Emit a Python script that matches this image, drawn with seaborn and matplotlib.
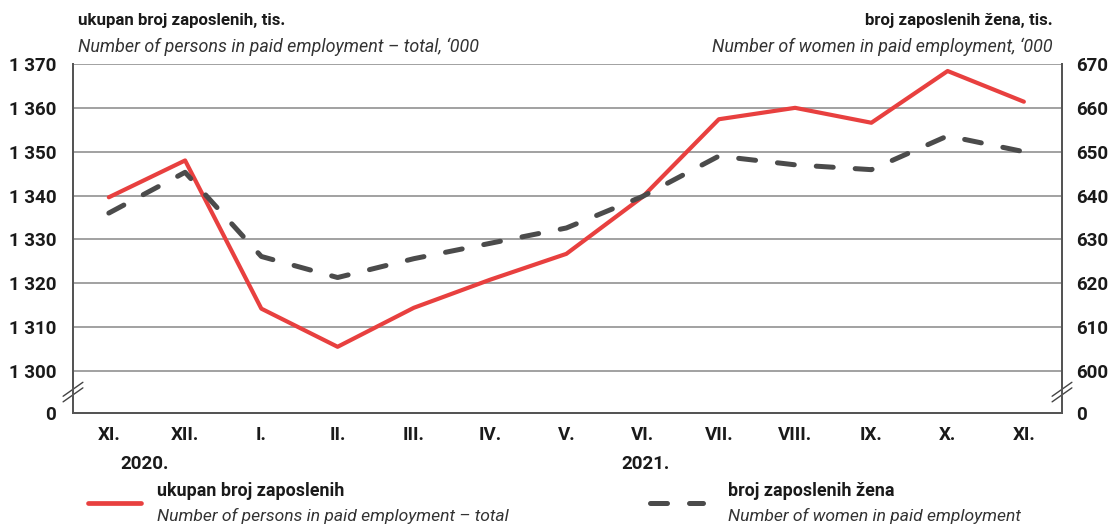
import numpy as np
import pandas as pd
import matplotlib
matplotlib.use('Agg')
import matplotlib.pyplot as plt
import seaborn as sns
from matplotlib.lines import Line2D
from matplotlib.patches import Rectangle

# data
months = ['XI.', 'XII.', 'I.', 'II.', 'III.', 'IV.', 'V.', 'VI.', 'VII.', 'VIII.', 'IX.', 'X.', 'XI.']
total = [1339.6, 1348.0, 1314.2, 1305.5, 1314.4, 1320.8, 1326.7, 1339.7, 1357.4, 1360.0, 1356.6, 1368.4, 1361.4]
women = [636.0, 645.3, 626.1, 621.3, 625.6, 629.1, 632.6, 639.8, 649.0, 647.0, 645.9, 653.6, 650.0]
left_ticks = [1300, 1310, 1320, 1330, 1340, 1350, 1360, 1370]
right_ticks = [600, 610, 620, 630, 640, 650, 660, 670]

RED = '#e8403f'
DARK = '#4b4b4b'
GRID = '#888888'
FONT = ['Roboto', 'DejaVu Sans']

sns.set_style('white')
plt.rcParams['font.family'] = FONT

df = pd.DataFrame({'pos': np.arange(len(months)), 'total': total, 'women': women})

W, H = 1110, 526
fig = plt.figure(figsize=(W / 100, H / 100), dpi=100)
ax = fig.add_axes([73 / W, 1 - 413 / H, (1062 - 73) / W, (413 - 64) / H])
ax2 = ax.twinx()

# broken axis: "0" sits a bit under the lowest real tick
gap = 9.6
ax.set_ylim(left_ticks[0] - gap, left_ticks[-1])
ax2.set_ylim(right_ticks[0] - gap, right_ticks[-1])
ax.set_xlim(-0.47, len(months) - 0.5)

for v in left_ticks:
    ax.axhline(v, color=GRID, lw=1.1, zorder=0)

sns.lineplot(data=df, x='pos', y='total', ax=ax, color=RED, lw=3.0, zorder=3)
sns.lineplot(data=df, x='pos', y='women', ax=ax2, color=DARK, lw=3.6,
             dashes=False, zorder=3)
ln = ax2.get_lines()[-1]
ln.set_dashes((3.4, 4.4))
ln.set_dash_capstyle('round')

ax.set_yticks([left_ticks[0] - gap] + left_ticks)
ax.set_yticklabels(['0'] + [f'{v:,}'.replace(',', ' ') for v in left_ticks])
ax2.set_yticks([right_ticks[0] - gap] + right_ticks)
ax2.set_yticklabels(['0'] + [str(v) for v in right_ticks])
ax.set_xticks(df['pos'])
ax.set_xticklabels(months)
ax.set_xlabel('')
ax.set_ylabel('')
ax2.set_ylabel('')

for a in (ax, ax2):
    a.tick_params(length=0, labelsize=13.5, colors='#1a1a1a')
    for s in a.spines.values():
        s.set_color('#555555')
        s.set_linewidth(1.4)
    a.spines['top'].set_visible(False)
ax.tick_params(axis='y', pad=12)
ax2.tick_params(axis='y', pad=10)
ax.tick_params(axis='x', pad=9)
for t in ax.get_xticklabels() + ax.get_yticklabels() + ax2.get_yticklabels():
    t.set_fontweight('bold')

# break marks on both vertical spines
for xa in (0.0, 1.0):
    ax.add_patch(Rectangle((xa - 0.004, 0.045), 0.008, 0.03, transform=ax.transAxes,
                           facecolor='white', edgecolor='none', clip_on=False, zorder=5))
    for off in (-0.008, 0.008):
        ax.add_line(Line2D([xa - 0.01, xa + 0.01], [0.04 + off, 0.08 + off],
                           transform=ax.transAxes, color='#444444', lw=1.0,
                           clip_on=False, zorder=6))

def ft(x, y, s, color='#1a1a1a', **kw):
    fig.text(x / W, 1 - y / H, s, va='center', color=color, **kw)

ft(78, 21, 'ukupan broj zaposlenih, tis.', fontsize=12.2, fontweight='bold')
ft(78, 47, 'Number of persons in paid employment – total, ‘000', fontsize=12.9,
   style='italic', color='#333333')
ft(1053, 21, 'broj zaposlenih žena, tis.', fontsize=12.2, fontweight='bold', ha='right')
ft(1053, 47, 'Number of women in paid employment, ‘000', fontsize=12.9,
   style='italic', color='#333333', ha='right')

ft(145, 464, '2020.', fontsize=13.5, fontweight='bold', ha='center')
ft(645, 464, '2021.', fontsize=13.5, fontweight='bold', ha='center')

# legend
fig.add_artist(Line2D([88 / W, 141 / W], [1 - 503 / H] * 2, color=RED, lw=3.4,
                      solid_capstyle='round'))
leg2 = Line2D([650 / W, 703 / W], [1 - 503 / H] * 2, color=DARK, lw=3.6,
              dash_capstyle='round')
leg2.set_dashes((3.4, 4.4))
fig.add_artist(leg2)
ft(157, 491, 'ukupan broj zaposlenih', fontsize=12.9, fontweight='bold')
ft(157, 516, 'Number of persons in paid employment – total', fontsize=12.6,
   style='italic', color='#333333')
ft(728, 491, 'broj zaposlenih žena', fontsize=12.9, fontweight='bold')
ft(728, 516, 'Number of women in paid employment', fontsize=12.6,
   style='italic', color='#333333')

fig.savefig('out.png', dpi=100)
